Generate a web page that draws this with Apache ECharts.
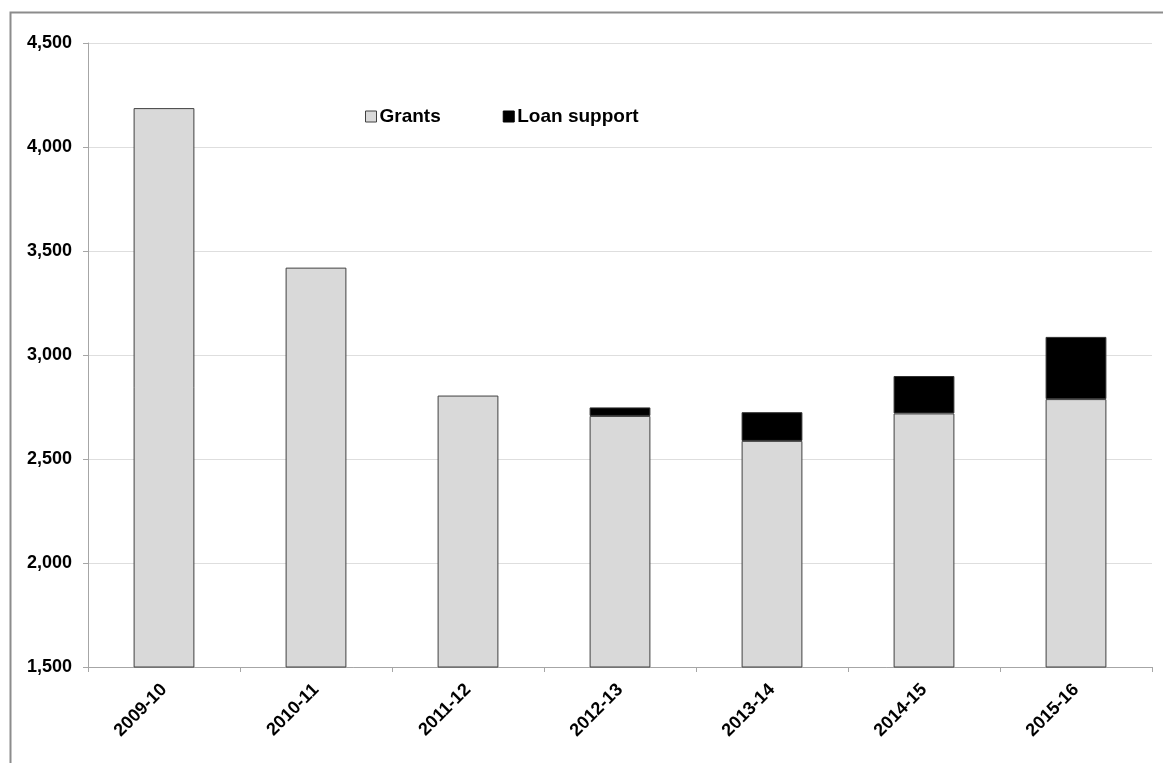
<!DOCTYPE html>
<html>
<head>
<meta charset="utf-8">
<title>Grants and loan support</title>
<script src="https://cdn.jsdelivr.net/npm/echarts@6/dist/echarts.min.js"></script>
<style>
  html, body { margin: 0; padding: 0; background: #ffffff; }
  #chart { width: 1163px; height: 763px; }
</style>
</head>
<body>
<div id="chart"></div>
<script>
// Financial years shown along the x axis
const years = ['2009-10', '2010-11', '2011-12', '2012-13', '2013-14', '2014-15', '2015-16'];
// Grant funding per year
const grants = [4187, 3420, 2805, 2707, 2587, 2719, 2788];
// Loan support per year (none before 2012-13)
const loanSupport = [0, 0, 0, 41, 138, 180, 299];
// Value axis range and step
const yMin = 1500;
const yMax = 4500;
const yStep = 500;

const FONT = '"Liberation Sans", Arial, sans-serif';
const chart = echarts.init(document.getElementById('chart'), null, { renderer: 'canvas' });

chart.setOption({
  animation: false,
  backgroundColor: '#ffffff',
  graphic: [{
    type: 'rect',
    silent: true,
    shape: { x: 10.5, y: 12.5, width: 1180, height: 780 },
    style: { fill: 'none', stroke: '#8c8c8c', lineWidth: 2 }
  }],
  grid: { left: 88, right: 11, top: 43, bottom: 96, containLabel: false },
  legend: {
    left: 360,
    top: 102,
    itemWidth: 11,
    itemHeight: 11,
    itemGap: 62,
    icon: 'rect',
    textStyle: { fontFamily: FONT, fontWeight: 'bold', fontSize: 19, color: '#000000', padding: [0, 0, 0, -2] },
    data: [
      { name: 'Grants', itemStyle: { color: '#d9d9d9', borderColor: '#404040', borderWidth: 1 } },
      { name: 'Loan support', itemStyle: { color: '#000000', borderColor: '#000000', borderWidth: 1 } }
    ]
  },
  xAxis: {
    type: 'category',
    data: years,
    boundaryGap: true,
    axisLine: { show: true, lineStyle: { color: '#a6a6a6', width: 1 } },
    axisTick: { show: true, length: 5, lineStyle: { color: '#a6a6a6' } },
    axisLabel: {
      rotate: 45,
      margin: 20,
      fontFamily: FONT,
      fontWeight: 'bold',
      fontSize: 18,
      color: '#000000'
    },
    splitLine: { show: false }
  },
  yAxis: {
    type: 'value',
    min: yMin,
    max: yMax,
    interval: yStep,
    axisLine: { show: true, lineStyle: { color: '#a6a6a6', width: 1 } },
    axisTick: { show: true, length: 5, lineStyle: { color: '#a6a6a6' } },
    axisLabel: {
      margin: 16,
      fontFamily: FONT,
      fontWeight: 'bold',
      fontSize: 18,
      color: '#000000',
      formatter: v => v.toLocaleString('en-GB')
    },
    splitLine: { show: true, lineStyle: { color: '#dedede', width: 1 } }
  },
  series: [
    {
      name: 'Grants',
      type: 'bar',
      stack: 'total',
      barWidth: '40%',
      data: grants,
      itemStyle: { color: '#d9d9d9', borderColor: '#404040', borderWidth: 1 }
    },
    {
      name: 'Loan support',
      type: 'bar',
      stack: 'total',
      barWidth: '40%',
      data: loanSupport.map(v => (v > 0 ? v : '-')),
      itemStyle: { color: '#000000', borderColor: '#303030', borderWidth: 1 }
    }
  ]
});
</script>
</body>
</html>
